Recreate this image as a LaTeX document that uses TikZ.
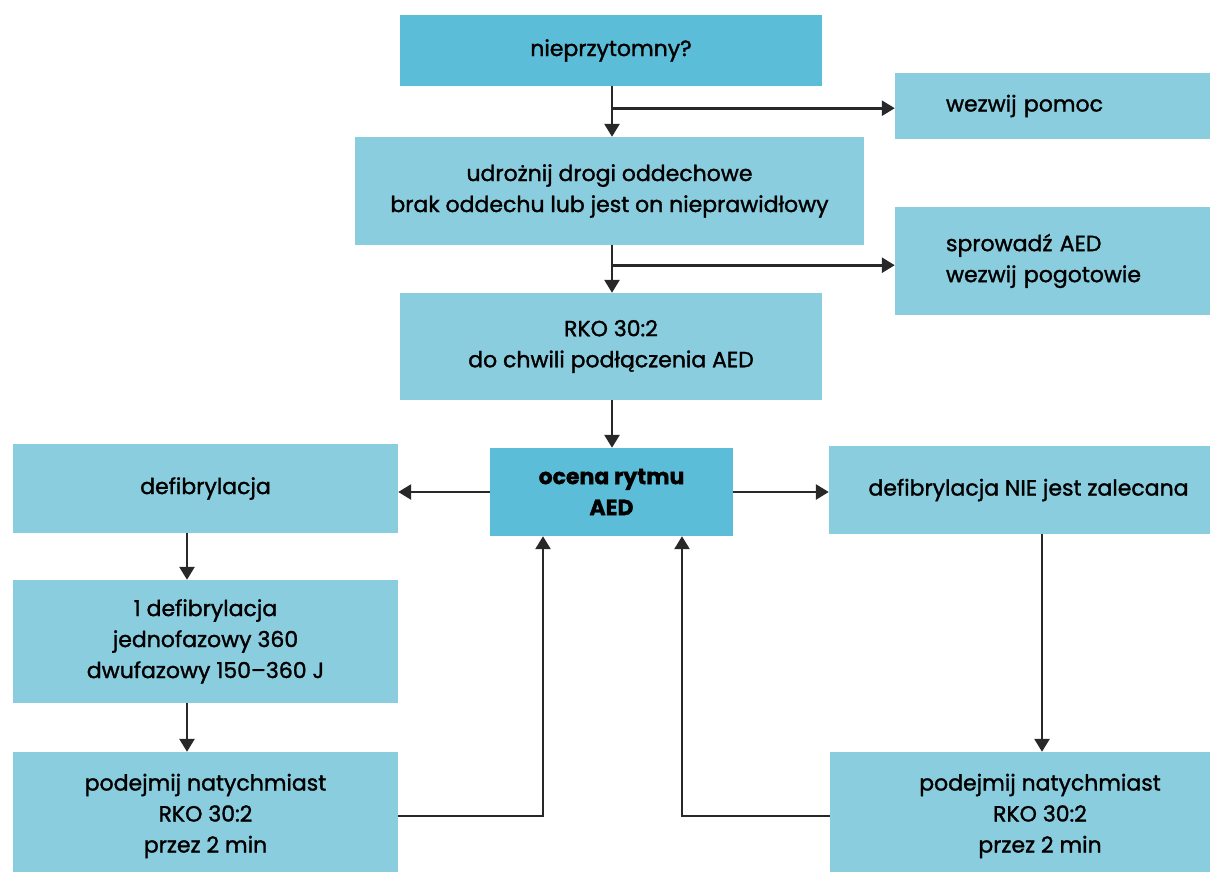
\documentclass[tikz,border=0pt]{standalone}
\usepackage{fontspec}
\setmainfont{Poppins}[FakeBold=1.4]
\usetikzlibrary{arrows.meta}
\definecolor{boxlight}{RGB}{138,205,222}
\definecolor{boxdark}{RGB}{91,189,216}
\definecolor{linegray}{RGB}{40,40,40}
\begin{document}
\begin{tikzpicture}[x=1pt,y=-1pt,
  box/.style={fill=boxlight, draw=none, inner sep=0pt, align=center,
    font=\fontsize{22}{31}\selectfont, text=black},
  darkbox/.style={box, fill=boxdark},
  conn/.style={line width=2.6pt, draw=linegray},
  arr/.style={conn, -{Triangle[width=15pt,length=13pt]}}]
\useasboundingbox (0,0) rectangle (1210,871);
\clip (0,0) rectangle (1210,871);
\fill[white] (0,0) rectangle (1210,871);

\node[darkbox, minimum width=422pt, minimum height=71pt] (n1) at (611,50.5) {nieprzytomny?};
\node[box, minimum width=315pt, minimum height=66pt, text width=213pt, inner xsep=51pt, align=left] (wez) at (1052.5,106) {wezwij pomoc};
\node[box, minimum width=509pt, minimum height=108pt] (udr) at (609.5,191) {udrożnij drogi oddechowe\\brak oddechu lub jest on nieprawidłowy};
\node[box, minimum width=315pt, minimum height=108pt, text width=213pt, inner xsep=51pt, align=left] (spr) at (1052.5,261) {sprowadź AED\\wezwij pogotowie};
\node[box, minimum width=422pt, minimum height=107pt] (rko) at (611,346.5) {RKO 30:2\\do chwili podłączenia AED};
\node[darkbox, minimum width=243pt, minimum height=88pt, font=\fontsize{22}{31}\selectfont\bfseries] (oce) at (611.5,492) {ocena rytmu\\AED};
\node[box, minimum width=385pt, minimum height=89pt] (def) at (205.5,488.5) {defibrylacja};
\node[box, minimum width=399pt, minimum height=88pt] (nie) at (1028.5,490) {defibrylacja NIE jest zalecana};
\node[box, minimum width=385pt, minimum height=123pt] (one) at (205.5,641.5) {1 defibrylacja\\jednofazowy 360\\dwufazowy 150–360 J};
\node[box, minimum width=385pt, minimum height=128pt] (pl) at (205.5,816) {podejmij natychmiast\\RKO 30:2\\przez 2 min};
\node[box, minimum width=420pt, minimum height=128pt] (pr) at (1040,816) {podejmij natychmiast\\RKO 30:2\\przez 2 min};

\coordinate (ax) at (187,0);
\coordinate (bx) at (1042,0);
\coordinate (c1) at (543,816);
\coordinate (c2) at (682,816);

% top column
\draw[arr] (n1.south -| 612,0) -- (udr.north -| 612,0);
\draw[arr] (n1.south -| 612,0) ++(0,22) coordinate (b1) -- (b1 -| wez.west);
\draw[arr] (udr.south -| 612,0) -- (rko.north -| 612,0);
\draw[arr] (udr.south -| 612,0) ++(0,20) coordinate (b2) -- (b2 -| spr.west);
\draw[arr] (rko.south -| 612,0) -- (oce.north -| 612,0);

% branches from ocena
\draw[arr] (oce.west) -- (oce.west -| def.east);
\draw[arr] (oce.east) -- (oce.east -| nie.west);

% left column
\draw[arr] (ax |- def.south) -- (ax |- one.north);
\draw[arr] (ax |- one.south) -- (ax |- pl.north);
\draw[arr] (c1 -| pl.east) -- (c1) -- (c1 |- oce.south);

% right column
\draw[arr] (bx |- nie.south) -- (bx |- pr.north);
\draw[arr] (c2 -| pr.west) -- (c2) -- (c2 |- oce.south);
\end{tikzpicture}
\end{document}
